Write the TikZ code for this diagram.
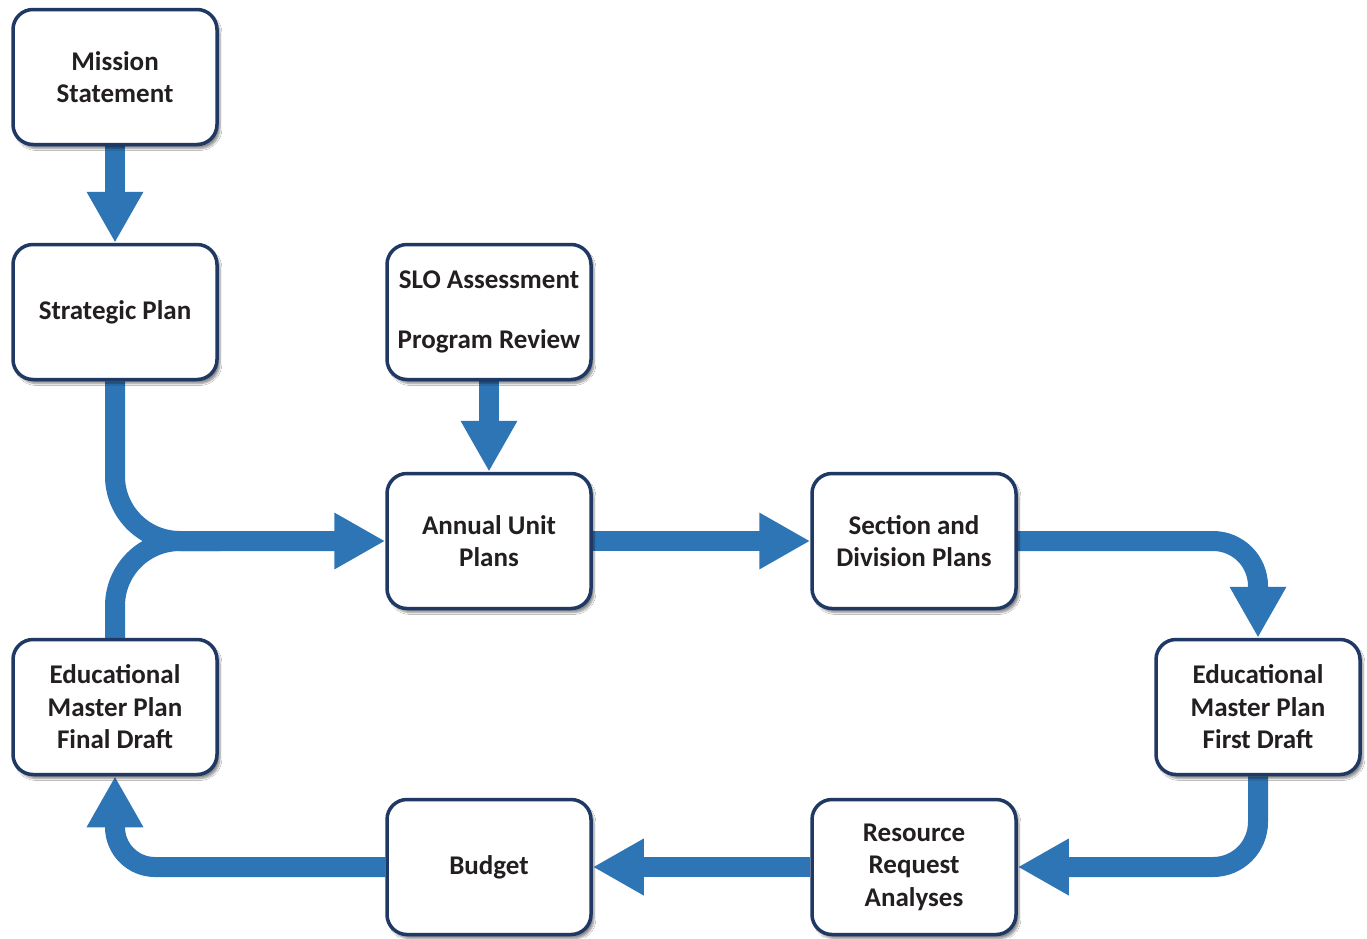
\documentclass[tikz,border=0pt]{standalone}
\usepackage{fontspec}
\setmainfont{Carlito}
\usetikzlibrary{arrows.meta,shadows.blur,backgrounds}
\definecolor{navy}{RGB}{31,56,100}
\definecolor{flow}{RGB}{46,117,182}
\definecolor{ink}{RGB}{35,31,32}
\begin{document}
\begin{tikzpicture}[x=1pt,y=-1pt,
  box/.style={draw=navy, line width=3.5pt, fill=white, rounded corners=20pt,
    minimum width=204pt, minimum height=135pt, align=center,
    font=\fontsize{27}{32.5}\selectfont\bfseries, text=ink,
    blur shadow={shadow xshift=3pt, shadow yshift=-4pt, shadow blur steps=6, shadow opacity=45}},
  flowline/.style={draw=flow, line width=20pt, -{Triangle[length=51pt,width=53pt]}},
  flowbar/.style={draw=flow, line width=20pt},
]
\useasboundingbox (0,0) rectangle (1367,938);
\node[box] (mis) at (115,77) {Mission\\Statement};
\node[box] (str) at (115,312) {Strategic Plan};
\node[box] (slo) at (489,312) {SLO Assessment\\[27pt]Program Review};
\node[box] (aup) at (489,541) {Annual Unit\\Plans};
\node[box] (sdp) at (914,541) {Section and\\Division Plans};
\node[box] (emf) at (1258,707) {Educational\\Master Plan\\First Draft};
\node[box] (emd) at (115,707) {Educational\\Master Plan\\Final Draft};
\node[box] (bud) at (489,867) {Budget};
\node[box] (rra) at (914,867) {Resource\\Request\\Analyses};
\coordinate (join) at (220,541);
\begin{scope}[on background layer]
\fill[white] (0,0) rectangle (1367,938);
\draw[flowline] (mis.south) -- (str.north);
\draw[flowline] (slo.south) -- (aup.north);
\draw[flowline, rounded corners=65pt] (str.south) -- (str.south |- aup.west) -- (aup.west);
\draw[flowbar, rounded corners=65pt] (emd.north) -- (emd.north |- join) -- (join);
\draw[flowline] (aup.east) -- (sdp.west);
\draw[flowline, rounded corners=45pt] (sdp.east) -- (sdp.east -| emf.north) -- (emf.north);
\draw[flowline, rounded corners=45pt] (emf.south) -- (emf.south |- rra.east) -- (rra.east);
\draw[flowline] (rra.west) -- (bud.east);
\draw[flowline, rounded corners=40pt] (bud.west) -- (bud.west -| emd.south) -- (emd.south);
\end{scope}
\end{tikzpicture}
\end{document}
